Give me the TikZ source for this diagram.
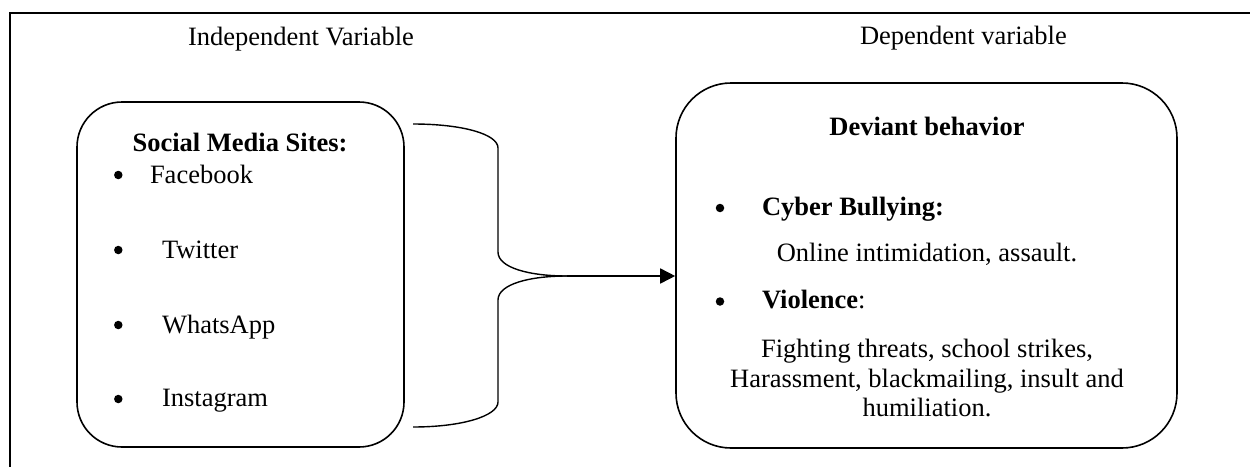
\documentclass[tikz,border=0pt]{standalone}
\usepackage{fontspec}
\setmainfont{Liberation Serif}
\usetikzlibrary{arrows.meta}
\begin{document}
\begin{tikzpicture}[x=1pt,y=-1pt,
  txt/.style={inner sep=0pt, outer sep=0pt, font=\fontsize{26.5}{30}\selectfont},
  btxt/.style={inner sep=0pt, outer sep=0pt, font=\fontsize{26.5}{30}\selectfont\bfseries},
  lbl/.style={txt, anchor=base west},
  blbl/.style={btxt, anchor=base west},
  ctr/.style={txt, anchor=base},
  bul/.style={circle, fill=black, inner sep=0pt, minimum size=8.5pt},
  box/.style={draw, line width=1.6pt, rounded corners=#1, inner sep=0pt},
  conn/.style={line width=1.4pt},
  frame/.style={line width=1.6pt}]
\useasboundingbox (0,0) rectangle (1250,466);
% frame (top and left edges)
\coordinate (f1) at (10,467);
\coordinate (f2) at (10,13);
\coordinate (f3) at (1251,13);
\draw[frame] (f1) -- (f2) -- (f3);
% headings
\node[lbl] (iv) at (188,45) {Independent Variable};
\node[lbl] (dv) at (860,44) {Dependent variable};
% boxes
\node[box=45pt, minimum width=327pt, minimum height=345pt] (L) at (240.5,274.5) {};
\node[box=55pt, minimum width=501pt, minimum height=365pt] (R) at (926.5,265.5) {};
% left box content
\node[btxt, anchor=base] (smt) at (240,151) {Social Media Sites:};
\node[bul] (b1) at (118.3,175) {};
\node[lbl] (fb) at (150,183) {Facebook};
\node[bul] (b2) at (118.3,250) {};
\node[lbl] (tw) at (162,258) {Twitter};
\node[bul] (b3) at (118.3,325) {};
\node[lbl] (wa) at (162,333) {WhatsApp};
\node[bul] (b4) at (118.3,399) {};
\node[lbl] (ig) at (162,406) {Instagram};
% right box content
\node[btxt, anchor=base] (db) at (927,135) {Deviant behavior};
\node[bul] (b5) at (720,208) {};
\node[blbl] (cb) at (762,215) {Cyber Bullying:};
\node[ctr] (oi) at (927,261) {Online intimidation, assault.};
\node[bul] (b6) at (720,301.5) {};
\node[lbl] (vi) at (762,308) {\textbf{Violence}:};
\node[ctr] (v1) at (927,357) {Fighting threats, school strikes,};
\node[ctr] (v2) at (927,387) {Harassment, blackmailing, insult and};
\node[ctr] (v3) at (927,416) {humiliation.};
% brace connector
\coordinate (t1) at (413,124);
\coordinate (t2) at (413,427);
\coordinate (j) at (567,276);
\draw[conn] (t1) .. controls (462,124) and (498,134) .. (498,148) -- (498,252)
  .. controls (498,268) and (530,276) .. (j);
\draw[conn] (j) .. controls (530,276) and (498,284) .. (498,300) -- (498,402)
  .. controls (498,416) and (462,427) .. (t2);
\draw[conn, line width=1.6pt, -{Triangle[length=15pt,width=15pt]}] (j) -- (j -| R.west);
\end{tikzpicture}
\end{document}
